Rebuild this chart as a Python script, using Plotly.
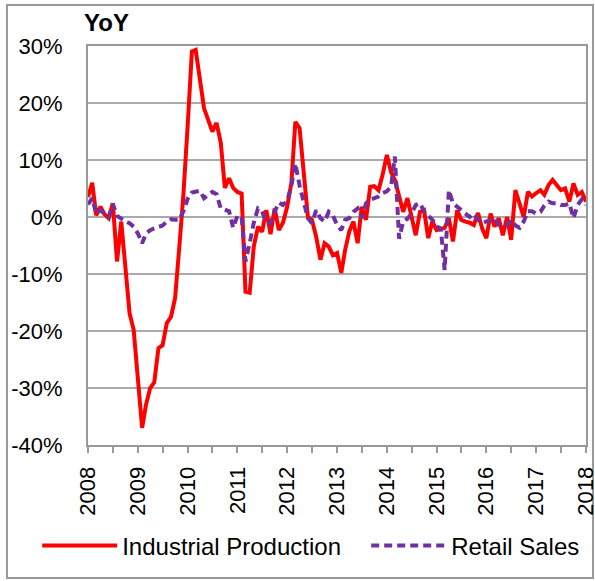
import pandas as pd
import plotly.graph_objects as go

dates = pd.date_range("2008-01-01", "2018-01-01", freq="MS")

industrial_production = [
    3.5, 6.0, 0.3, 1.8, 0.5, -0.2, 2.4, -7.8, -0.8, -9.5, -16.9, -19.8,
    -29.0, -37.0, -33.0, -30.0, -29.0, -23.0, -22.5, -18.6, -17.5, -14.2, -5.2, 4.0,
    16.0, 29.0, 29.3, 24.0, 19.1, 17.0, 15.0, 16.5, 13.0, 5.1, 6.8, 5.1,
    4.4, 4.1, -13.1, -13.3, -5.2, -1.7, -2.6, 1.2, -3.0, 1.5, -2.3, -1.0,
    1.8, 6.0, 16.7, 15.6, 7.1, 0.0, -0.5, -3.5, -7.5, -4.6, -5.2, -6.7,
    -6.3, -9.8, -5.8, -2.5, -0.8, -4.6, 1.8, -0.5, 5.3, 5.4, 4.7, 7.4,
    10.9, 7.9, 6.5, 3.9, 0.9, 3.3, 0.0, -3.2, 0.9, 1.2, -3.7, -0.8,
    -2.3, -2.0, -1.9, -0.2, -4.3, 1.2, -0.5, -0.8, -1.0, -1.4, 0.7, -2.0,
    -3.7, 0.6, -1.7, -0.2, -3.2, 0.0, -4.0, 4.7, 2.1, 0.0, 4.4, 3.6,
    4.2, 4.7, 3.9, 5.6, 6.5, 5.6, 4.7, 5.0, 2.7, 5.9, 3.9, 4.4,
    2.7,
]

retail_sales = [
    2.2, 3.3, 0.6, 1.2, 0.6, 0.0, 2.3, 0.2, -0.3, -0.8, -1.1, -1.7,
    -2.9, -4.6, -2.9, -2.3, -2.0, -1.8, -1.5, -0.8, -0.4, -0.5, -0.5, 1.0,
    3.2, 4.3, 4.5, 4.6, 3.3, 3.9, 4.4, 4.0, 1.5, 1.3, 1.0, -1.9,
    0.2, 0.0, -7.8, -4.6, -1.0, 1.5, 1.0, -1.0, -1.1, 0.9, 2.5, 2.1,
    2.8, 5.5, 9.4, 5.5, 2.5, -0.2, -1.1, 1.2, -0.2, -0.8, 0.9, 0.3,
    -1.4, -2.3, -0.5, -0.2, 0.9, 1.5, -0.2, 2.4, 3.0, 3.3, 3.6, 4.2,
    4.5, 5.3, 10.6, -3.8, -0.8, -0.3, 0.6, 2.1, 2.4, 1.0, 0.3, -0.5,
    -1.7, -2.0, -9.3, 4.7, 2.4, 1.8, 1.2, 0.5, 0.0, 0.6, -0.5, -1.1,
    -0.8, -0.4, -0.2, -1.4, -1.5, -1.4, -0.5, -1.5, -1.9, -0.8, 1.0, 1.0,
    0.6, 0.9, 2.0, 2.7, 2.4, 2.4, 2.1, 2.1, 2.4, -0.2, 2.1, 3.1,
    2.1,
]

y_ticks = [-40, -30, -20, -10, 0, 10, 20, 30]
y_tick_labels = ["-40%", "-30%", "-20%", "-10%", "0%", "10%", "20%", "30%"]

FONT = "Liberation Sans, Arial, sans-serif"

fig = go.Figure()
fig.add_trace(go.Scatter(
    x=dates, y=industrial_production, mode="lines", name="Industrial Production",
    line=dict(color="#FF0000", width=4), legendwidth=239,
))
fig.add_trace(go.Scatter(
    x=dates, y=retail_sales, mode="lines", name="Retail Sales",
    line=dict(color="#7030A0", width=4, dash="8px,5px"),
))

fig.update_layout(
    width=595, height=581,
    margin=dict(l=88, r=9, t=46, b=136, autoexpand=False),
    paper_bgcolor="white", plot_bgcolor="white",
    font=dict(family=FONT, size=22, color="black"),
    showlegend=True,
    legend=dict(
        orientation="h", x=-0.102, xanchor="left", y=-0.253, yanchor="middle",
        itemwidth=75, font=dict(size=24, family=FONT),
        bgcolor="rgba(0,0,0,0)",
    ),
    xaxis=dict(
        range=["2008-01-01", "2018-01-01"], automargin=False,
        tickformat="%Y", dtick="M12", tick0="2008-01-01",
        tickangle=-90, ticks="outside", ticklen=6, tickcolor="#999999", tickwidth=1.5,
        minor=dict(dtick="M6", ticks="outside", ticklen=6, tickcolor="#999999", tickwidth=1.5, showgrid=False),
        showgrid=False, showline=True, linecolor="#999999", linewidth=2, mirror=True,
        tickfont=dict(size=22, family=FONT), zeroline=False, ticklabelstandoff=5,
        ticklabeloverflow="allow",
    ),
    yaxis=dict(
        range=[-40, 30], tickvals=y_ticks, ticktext=y_tick_labels, automargin=False,
        showgrid=True, gridcolor="#AAAAAA", gridwidth=1.5,
        showline=True, linecolor="#999999", linewidth=2, mirror=True,
        ticks="", ticklabelstandoff=19, zeroline=False,
        tickfont=dict(size=22, family=FONT),
    ),
    annotations=[dict(
        text="<b>YoY</b>", xref="paper", yref="paper", x=-0.012, y=1.058,
        xanchor="left", yanchor="middle", showarrow=False,
        font=dict(size=24, family=FONT, color="black"),
    )],
    shapes=[dict(
        type="rect", xref="paper", yref="paper",
        x0=-0.1627, x1=1.0141, y0=-0.3333, y1=1.1028,
        line=dict(color="#999999", width=2), fillcolor="rgba(0,0,0,0)", layer="below",
    )],
)

fig.write_html("out.html", config={"displayModeBar": False},
               post_script="document.body.style.margin='0';")
